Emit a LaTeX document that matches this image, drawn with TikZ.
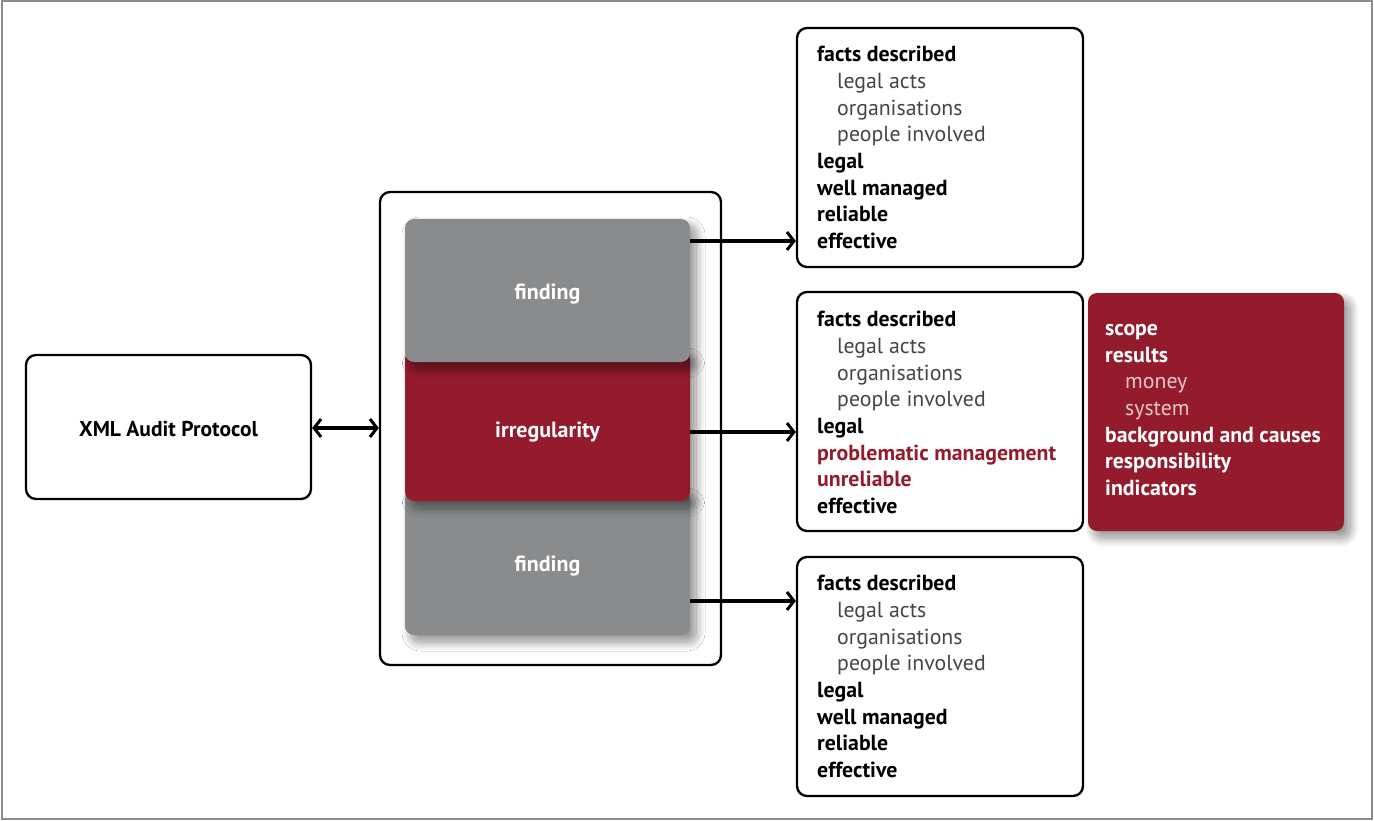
\documentclass[tikz,border=0pt]{standalone}
\usepackage{fontspec}
\setmainfont{PT Sans}
\usetikzlibrary{arrows.meta,shadows.blur}
\definecolor{framegray}{HTML}{8C8C8C}
\definecolor{cardgray}{HTML}{8A8B8D}
\definecolor{cardred}{HTML}{931B2C}
\definecolor{lighttext}{HTML}{454545}
\definecolor{pinktext}{HTML}{E8C6CB}
\newcommand{\sub}[1]{\hspace*{20pt}{\color{lighttext}#1}}
\newcommand{\subp}[1]{\hspace*{20pt}{\color{pinktext}#1}}
\begin{document}
\begin{tikzpicture}[x=1pt,y=-1pt,
  outline/.style={draw=black, line width=2.3pt, rounded corners=10pt, fill=white, inner sep=0pt},
  card/.style={rounded corners=9pt, inner sep=0pt,
    blur shadow={shadow xshift=6pt, shadow yshift=-7pt, shadow blur radius=9pt, shadow blur steps=24, shadow opacity=45}},
  cardlabel/.style={text=white, font=\fontsize{22}{26}\selectfont\bfseries},
  listtext/.style={align=left, inner sep=0pt, anchor=north west, font=\fontsize{21.8}{26.7}\selectfont},
  tipb/.tip={Straight Barb[length=7pt,width=18pt,line width=3pt]},
  arr/.style={draw=black, -tipb, line width=3.2pt},
  darr/.style={draw=black, tipb-tipb, line width=3.2pt}
]
\useasboundingbox (0,0) rectangle (1374,821);
\draw[framegray, line width=2pt] (2,1) rectangle (1372,819);

% left box
\node[outline, minimum width=285pt, minimum height=144pt] (xml) at (168.5,427) {};
\node[font=\fontsize{21.5}{26}\selectfont\bfseries] (xmltxt) at (168.5,429) {XML Audit Protocol};

% container
\node[outline, minimum width=341pt, minimum height=473pt] (cont) at (550.5,428.5) {};

% cards (bottom to top)
\node[card, fill=cardgray, minimum width=285pt, minimum height=145pt] (f2) at (547.5,562.5) {};
\node[card, fill=cardred, minimum width=285pt, minimum height=151pt] (irr) at (547.5,425.5) {};
\node[card, fill=cardgray, minimum width=285pt, minimum height=143pt] (f1) at (547.5,290.5) {};
\node[cardlabel] (f1t) at (547.5,294) {finding};
\node[cardlabel] (irrt) at (547.5,432) {irregularity};
\node[cardlabel] (f2t) at (547.5,566) {finding};

% right boxes
\node[outline, minimum width=286pt, minimum height=239pt] (b1) at (940,147.5) {};
\node[outline, minimum width=286pt, minimum height=239pt] (b2) at (940,411.5) {};
\node[outline, minimum width=286pt, minimum height=239pt] (b3) at (940,676.5) {};
\node[card, fill=cardred, minimum width=256pt, minimum height=238pt] (red) at (1216,412) {};

\node[listtext] (t1) at (817,46) {\textbf{facts described}\\ \sub{legal acts}\\ \sub{organisations}\\ \sub{people involved}\\ \textbf{legal}\\ \textbf{well managed}\\ \textbf{reliable}\\ \textbf{effective}};
\node[listtext] (t2) at (817,311) {\textbf{facts described}\\ \sub{legal acts}\\ \sub{organisations}\\ \sub{people involved}\\ \textbf{legal}\\ \textbf{\color{cardred}problematic management}\\ \textbf{\color{cardred}unreliable}\\ \textbf{effective}};
\node[listtext] (t3) at (817,575) {\textbf{facts described}\\ \sub{legal acts}\\ \sub{organisations}\\ \sub{people involved}\\ \textbf{legal}\\ \textbf{well managed}\\ \textbf{reliable}\\ \textbf{effective}};
\node[listtext, text=white] (t4) at (1105,324) {\textbf{scope}\\ \textbf{results}\\ \subp{money}\\ \subp{system}\\ \textbf{background and causes}\\ \textbf{responsibility}\\ \textbf{indicators}};

% connectors
\draw[darr] (xml.east |- 0,428) -- (cont.west |- 0,428);
\draw[arr] (f1.east |- 0,241) -- (b1.west |- 0,241);
\draw[arr] (irr.east |- 0,432) -- (b2.west |- 0,432);
\draw[arr] (f2.east |- 0,601) -- (b3.west |- 0,601);
\end{tikzpicture}
\end{document}
